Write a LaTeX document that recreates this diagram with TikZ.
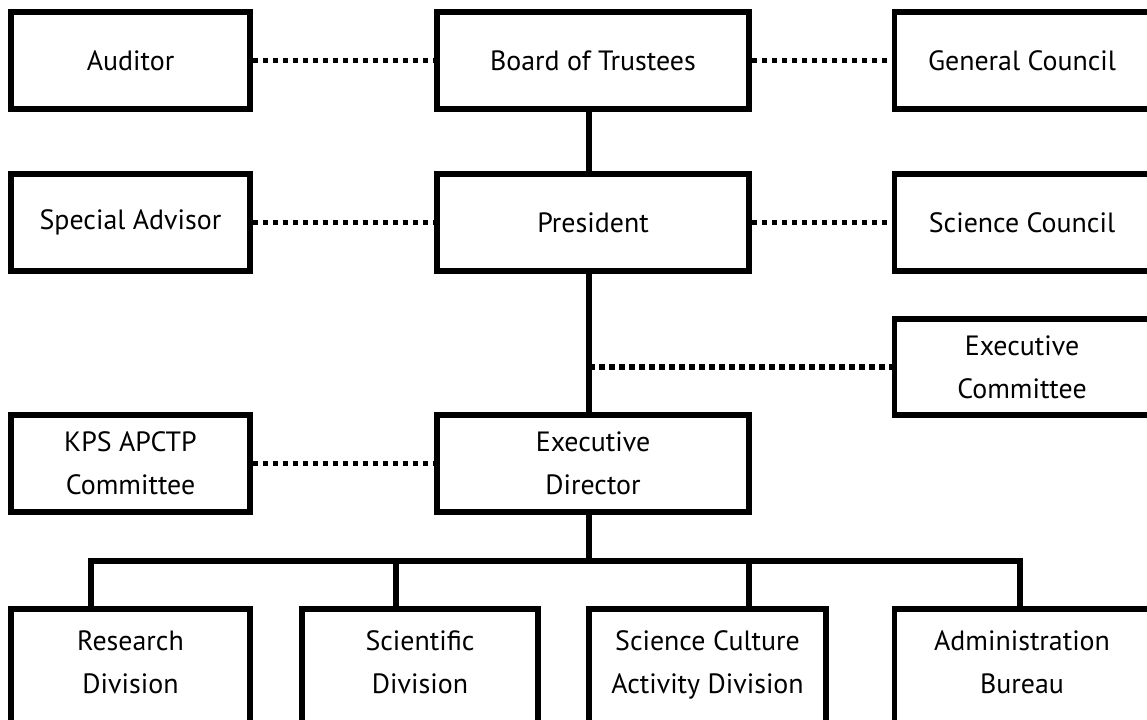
\documentclass[tikz,border=0pt]{standalone}
\usepackage{fontspec}
\setmainfont{PT Sans}

\begin{document}
\begin{tikzpicture}[
	unit/.style={draw, rectangle, line width=5.5bp, inner sep=0pt, align=center,
		font=\fontsize{28}{43}\selectfont, minimum height=97bp},
	link/.style={line width=5.5bp},
	tie/.style={line width=5.5bp, dash pattern=on 5.5bp off 4.5bp}
]
	\useasboundingbox (0bp,0bp) rectangle (1147bp,-720bp);
	\clip (0bp,0bp) rectangle (1147bp,-720bp);

	\node (aud) at (130.5bp,-60.5bp)  [unit, minimum width=239bp] {Auditor};
	\node (bot) at (593bp,-60.5bp)    [unit, minimum width=312bp] {Board of Trustees};
	\node (gc)  at (1022bp,-60.5bp)   [unit, minimum width=255bp] {General Council};

	\node (sa)  at (130.5bp,-222.5bp) [unit, minimum width=239bp] {Special Advisor};
	\node (pre) at (593bp,-222.5bp)   [unit, minimum width=312bp] {President};
	\node (sc)  at (1022bp,-222.5bp)  [unit, minimum width=255bp] {Science Council};

	\node (ec)  at (1022bp,-367bp)    [unit, minimum width=255bp, minimum height=96bp] {Executive\\Committee};

	\node (kps) at (130.5bp,-463.5bp) [unit, minimum width=239bp] {KPS APCTP\\Committee};
	\node (ed)  at (593bp,-463.5bp)   [unit, minimum width=312bp] {Executive\\Director};

	\node (rd)  at (130.5bp,-668bp)   [unit, minimum width=239bp, minimum height=118bp, text depth=12bp] {Research\\Division};
	\node (sd)  at (420bp,-668bp)     [unit, minimum width=236bp, minimum height=118bp, text depth=12bp] {Scientific\\Division};
	\node (scd) at (707.5bp,-668bp)   [unit, minimum width=237bp, minimum height=118bp, text depth=12bp] {Science Culture\\Activity Division};
	\node (ab)  at (1022bp,-668bp)    [unit, minimum width=255bp, minimum height=118bp, text depth=12bp] {Administration\\Bureau};

	\coordinate (sp) at (589bp,0bp);
	\coordinate (b1) at (91bp,-561bp);
	\coordinate (b2) at (396bp,-561bp);
	\coordinate (b3) at (749bp,-561bp);
	\coordinate (b4) at (1020bp,-561bp);

	\draw [tie]  (aud.east) -- (bot.west);
	\draw [tie]  (bot.east) -- (gc.west);
	\draw [tie]  (sa.east) -- (pre.west);
	\draw [tie]  (pre.east) -- (sc.west);
	\draw [tie]  (kps.east) -- (ed.west);
	\draw [tie]  (sp |- ec.west) -- (ec.west);

	\draw [link] (bot.south -| sp) -- (pre.north -| sp);
	\draw [link] (pre.south -| sp) -- (ed.north -| sp);
	\draw [link] (ed.south -| sp) -- (sp |- b1);
	\draw [link] (b1 |- rd.north) -- (b1) -- (b4) -- (b4 |- ab.north);
	\draw [link] (b2) -- (b2 |- sd.north);
	\draw [link] (b3) -- (b3 |- scd.north);
\end{tikzpicture}
\end{document}
